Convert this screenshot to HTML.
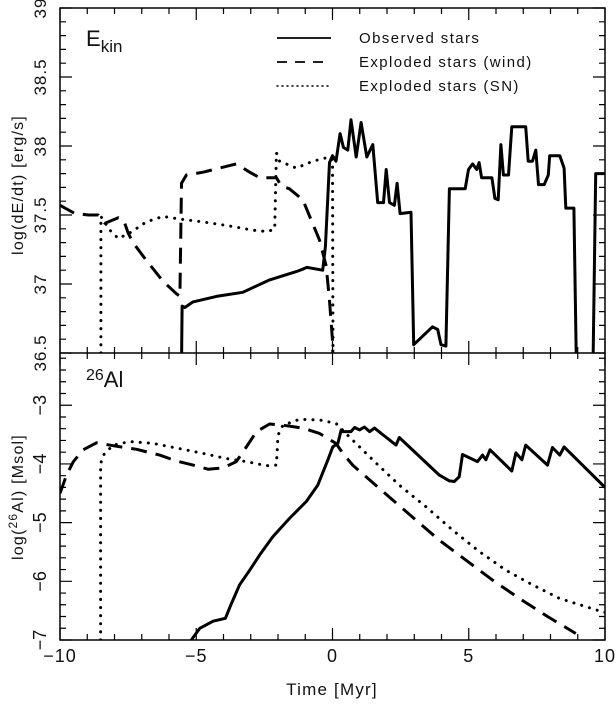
<!DOCTYPE html>
<html><head><meta charset="utf-8"><style>
body{margin:0;background:#fff}
svg text{font-family:"Liberation Sans",sans-serif;fill:#111}
</style></head><body>
<svg id="c" width="616" height="704" xmlns="http://www.w3.org/2000/svg"></svg>
<script>
// top panel data [time, log value]
const obsTopT=[-5.54,-5.52,-5.42,-5.12,-4.26,-3.29,-2.31,-1.33,-1.06,-0.94,-0.36,-0.26,-0.11,0,0.13,0.28,0.4,0.56,0.68,0.87,1.05,1.26,1.48,1.66,1.87,1.97,2.09,2.27,2.37,2.48,2.88,2.98,3.67,3.86,3.98,4.16,4.29,4.87,4.99,5.14,5.29,5.38,5.47,5.85,5.96,6.08,6.18,6.27,6.46,6.58,7.09,7.18,7.34,7.46,7.56,7.77,7.92,7.97,8.34,8.5,8.56,8.86,8.95];
const obsTopV=[36.4,36.84,36.83,36.87,36.91,36.94,37.03,37.09,37.11,37.12,37.10,37.27,37.88,37.93,37.89,38.09,37.99,37.97,38.19,37.92,38.17,37.92,38.01,37.59,37.59,37.83,37.59,37.57,37.73,37.51,37.52,36.56,36.69,36.67,36.56,36.55,37.69,37.69,37.83,37.87,37.83,37.88,37.77,37.77,37.62,37.61,38.01,37.79,37.79,38.14,38.14,37.89,37.89,37.97,37.72,37.72,37.79,37.93,37.93,37.84,37.55,37.55,36.4];
const obsTop2T=[9.56,9.66,10];
const obsTop2V=[36.4,37.80,37.80];
const windTopT=[-10,-9.45,-8.96,-8.6,-8.35,-7.86,-7.66,-7.5,-7.32,-6.83,-6.22,-5.73,-5.6,-5.54,-5.36,-4.75,-3.53,-3.04,-2.67,-2.06,-1.88,-1.58,-1.09,-0.48,-0.23,-0.11,0,0.01];
const windTopV=[37.57,37.51,37.5,37.5,37.44,37.48,37.46,37.37,37.3,37.17,37.02,36.93,36.91,37.73,37.79,37.81,37.87,37.81,37.77,37.77,37.71,37.69,37.61,37.32,37.13,36.88,36.59,36.5];
const snTopT=[-8.5,-8.5,-8.17,-7.86,-7.44,-6.83,-6.22,-5.6,-4.75,-3.77,-2.92,-2.37,-2.12,-2.06,-1.94,-1.33,-0.72,-0.11,0,0.02];
const snTopV=[36.5,37.49,37.39,37.33,37.37,37.45,37.49,37.47,37.45,37.42,37.39,37.38,37.4,37.95,37.89,37.84,37.89,37.92,37.9,36.5];
// bottom panel data
const obsBotT=[-5.18,-4.87,-4.38,-3.93,-3.71,-3.41,-3.04,-2.67,-2.19,-1.58,-0.96,-0.54,-0.17,0.01,0.2,0.32,0.38,0.68,0.81,0.99,1.17,1.36,1.54,2.33,2.45,3.92,4.29,4.47,4.65,4.77,5.32,5.51,5.63,5.78,6.58,6.73,6.95,7.09,7.89,8.07,8.34,8.5,10];
const obsBotV=[-7,-6.8,-6.68,-6.63,-6.38,-6.06,-5.81,-5.55,-5.24,-4.93,-4.64,-4.36,-3.93,-3.71,-3.65,-3.42,-3.45,-3.45,-3.38,-3.42,-3.37,-3.45,-3.39,-3.68,-3.55,-4.19,-4.29,-4.30,-4.22,-3.84,-3.96,-3.85,-3.93,-3.76,-4.12,-3.81,-3.93,-3.68,-4.02,-3.72,-3.85,-3.71,-4.40];
const windBotT=[-10,-9.76,-9.51,-9.15,-8.66,-8.05,-7.19,-6.34,-5.73,-5.12,-4.57,-4.02,-3.53,-3.16,-2.79,-2.31,-1.82,-1.09,-0.48,0.13,0.38,0.74,1.23,2.15,3.07,3.92,4.9,5.87,6.85,7.89,8.93];
const windBotV=[-4.5,-4.19,-3.96,-3.76,-3.64,-3.69,-3.75,-3.85,-3.95,-4.02,-4.09,-4.07,-3.96,-3.71,-3.45,-3.32,-3.34,-3.39,-3.48,-3.65,-3.82,-4.02,-4.22,-4.59,-4.96,-5.30,-5.64,-5.98,-6.29,-6.60,-6.89];
const snBotT=[-8.51,-8.51,-8.41,-8.05,-7.44,-6.58,-5.6,-4.75,-3.89,-3.16,-2.43,-2.06,-2.0,-1.82,-1.21,-0.48,0.13,0.62,1.54,2.45,3.43,4.41,5.38,6.36,7.34,8.32,9.9,10];
const snBotV=[-7,-4.0,-3.85,-3.68,-3.62,-3.65,-3.74,-3.82,-3.91,-3.96,-4.03,-4.02,-3.51,-3.34,-3.24,-3.25,-3.31,-3.54,-3.96,-4.36,-4.73,-5.13,-5.49,-5.81,-6.06,-6.29,-6.52,-6.53];
const xTicks=[-10,-5,0,5,10];
const topTicks=[36.5,37,37.5,38,38.5,39];
const botTicks=[-7,-6,-5,-4,-3];

const svg=document.getElementById('c');const NS='http://www.w3.org/2000/svg';
const L=60,R=605,T1=8,B1=353,B2=640;
const X=t=>L+(t+10)*(R-L)/20;
const Y1=v=>B1-(v-36.5)*(B1-T1)/2.5;
const K2=(B2-B1)/4.89;
const Y2=v=>B2-(v+7)*K2;
function el(tag,attrs,parent){const e=document.createElementNS(NS,tag);for(const k in attrs)e.setAttribute(k,attrs[k]);(parent||svg).appendChild(e);return e;}
function txt(s,x,y,size,anchor,name,parent){const e=el('text',{x:x,y:y,'font-size':size,'text-anchor':anchor||'middle'},parent);e.textContent=s;return e;}
const clip1=el('clipPath',{id:'c1'});el('rect',{x:L,y:T1,width:R-L,height:B1-T1},clip1);
const clip2=el('clipPath',{id:'c2'});el('rect',{x:L,y:B1,width:R-L,height:B2-B1},clip2);
const styles={solid:{'stroke-width':3},dash:{'stroke-width':3,'stroke-dasharray':'16 9'},dot:{'stroke-width':3,'stroke-dasharray':'0.1 8','stroke-linecap':'round'}};
function line(ts,vs,Y,style,clip,name){let d='';ts.forEach((t,i)=>{d+=(i?'L':'M')+X(t).toFixed(1)+' '+Y(vs[i]).toFixed(1);});
 const a=Object.assign({d:d,fill:'none',stroke:'#000','stroke-linejoin':'round','clip-path':'url(#'+clip+')'},styles[style]);
 const p=el('path',a);}
line(obsTopT,obsTopV,Y1,'solid','c1','observed-ekin-line');
line(obsTop2T,obsTop2V,Y1,'solid','c1','observed-ekin-line-end');
line(windTopT,windTopV,Y1,'dash','c1','wind-ekin-line');
line(snTopT,snTopV,Y1,'dot','c1','sn-ekin-line');
line(obsBotT,obsBotV,Y2,'solid','c2','observed-al26-line');
line(windBotT,windBotV,Y2,'dash','c2','wind-al26-line');
line(snBotT,snBotV,Y2,'dot','c2','sn-al26-line');
// frames & ticks
let f=el('rect',{x:L,y:T1,width:R-L,height:B2-T1,fill:'none',stroke:'#000','stroke-width':1.5});
el('line',{x1:L,x2:R,y1:B1,y2:B1,stroke:'#000','stroke-width':1.5});
let tk='';
for(let t=-10;t<=10;t++){const x=X(t),len=t%5===0?12:6;[T1,B1].forEach(y=>tk+=`M${x} ${y}v${len}`);[B1,B2].forEach(y=>tk+=`M${x} ${y}v${-len}`);}
for(let i=0;i<=25;i++){const v=36.5+i*0.1,y=Y1(v),len=i%5===0?12:6;tk+=`M${L} ${y}h${len}M${R} ${y}h${-len}`;}
for(let i=0;i<=24;i++){const v=-7+i*0.2,y=Y2(v),len=i%5===0?12:6;if(y<B1)continue;tk+=`M${L} ${y}h${len}M${R} ${y}h${-len}`;}
el('path',{d:tk,stroke:'#000','stroke-width':1.2,fill:'none'});
xTicks.forEach(t=>txt(t<0?'\u2212'+(-t):String(t),X(t),662,18,'middle','x-tick-label').setAttribute('letter-spacing','1'));
topTicks.forEach(v=>{const g=txt(String(v),0,0,17,'middle','top-y-tick-label');g.setAttribute('letter-spacing','1');g.setAttribute('transform',`translate(46,${Y1(v)}) rotate(-90)`);});
botTicks.forEach(v=>{const g=txt('\u2212'+(-v),0,0,18,'middle','bottom-y-tick-label');g.setAttribute('transform',`translate(46,${Y2(v)}) rotate(-90)`);});
txt('Time [Myr]',332,695,17,'middle','x-axis-title').setAttribute('letter-spacing','1.2');
let yt1=txt('log(dE/dt) [erg/s]',0,0,16,'middle','top-y-axis-title');yt1.setAttribute('letter-spacing','1.2');yt1.setAttribute('transform','translate(23,185) rotate(-90)');
let yt2=el('text',{'font-size':16,'letter-spacing':'1.2','text-anchor':'middle',transform:'translate(23,497) rotate(-90)'});

yt2.innerHTML='log(<tspan dy="-6" font-size="12">26</tspan><tspan dy="6">Al) [Msol]</tspan>';
let p1=el('text',{x:86,y:46,'font-size':22});
p1.innerHTML='E<tspan dy="6" font-size="17">kin</tspan>';
let p2=el('text',{x:86,y:387,'font-size':22});
p2.innerHTML='<tspan dy="-7" font-size="16">26</tspan><tspan dy="7">Al</tspan>';
// legend
const leg=[['Observed stars','solid'],['Exploded stars (wind)','dash'],['Exploded stars (SN)','dot']];
leg.forEach((l,i)=>{const y=38+i*24;const s=Object.assign({x1:277,x2:331,y1:y,y2:y,stroke:'#000'},styles[l[1]],{'stroke-width':l[1]==='dot'?1.5:1.8});
 if(l[1]==='dash')s['stroke-dasharray']='10 8';if(l[1]==='dot')s['stroke-dasharray']='1 4';
 const ln=el('line',s);
 txt(l[0],359,y+5,15,'start','legend-entry').setAttribute('letter-spacing','1.4');});
</script>
</body></html>
